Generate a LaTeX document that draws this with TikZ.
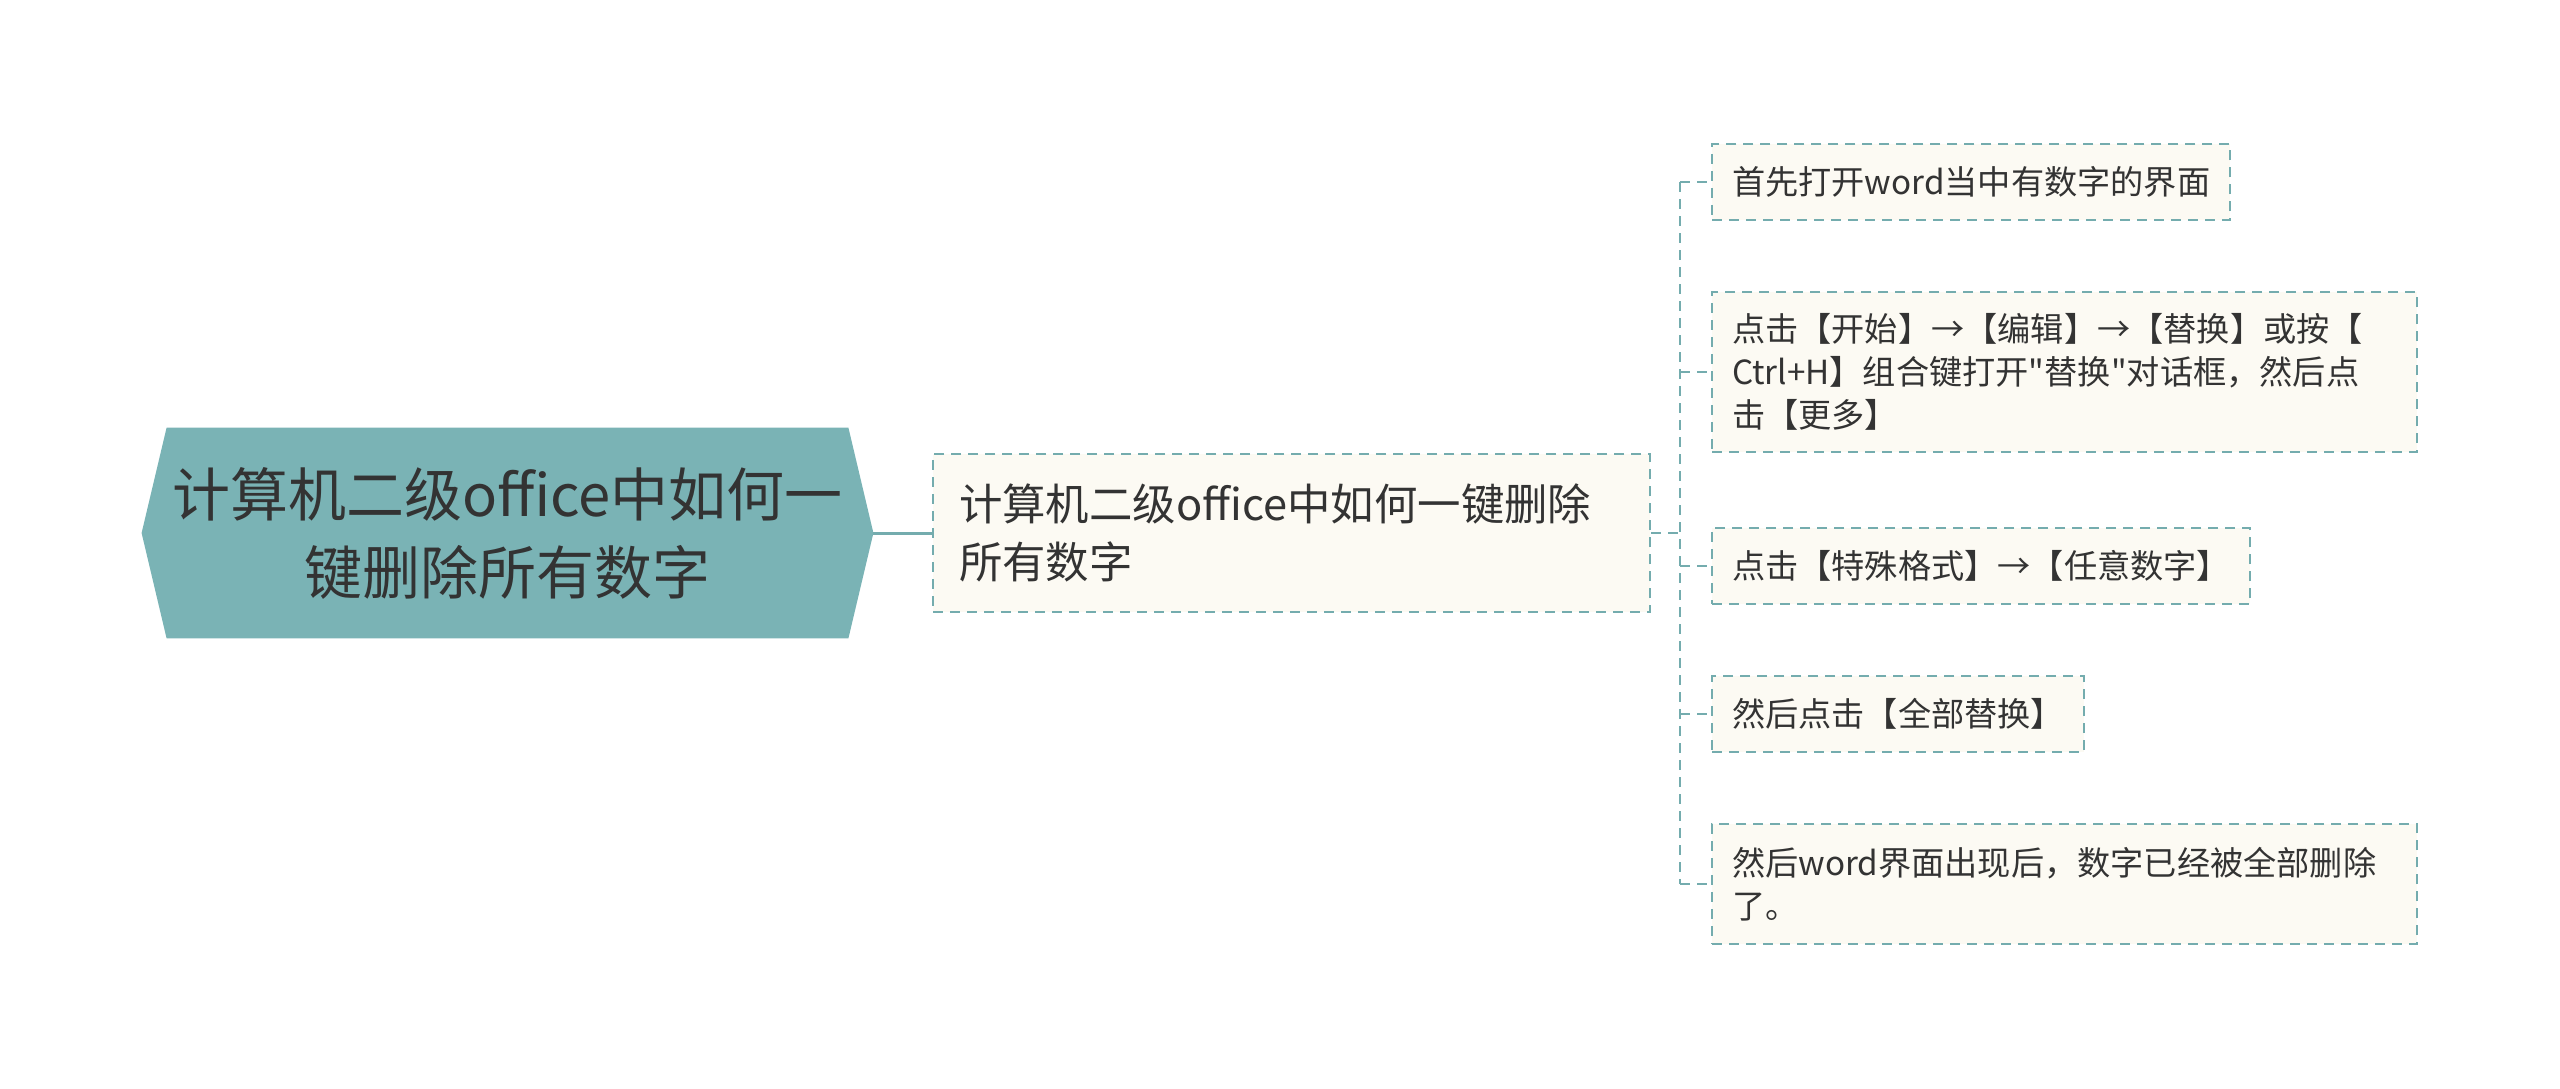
\documentclass[tikz,border=0pt]{standalone}
\usepackage{fontspec}
\setmainfont{Noto Sans CJK SC}
\newfontfamily\cjk{Noto Sans CJK SC}
\usepackage{xcolor}
\usepackage{tikz}
\usetikzlibrary{calc, positioning, backgrounds}

\definecolor{xanh}{HTML}{74ACAE}
\definecolor{nenxanh}{HTML}{7AB3B5}
\definecolor{nenkem}{HTML}{FCFAF3}
\definecolor{chu}{HTML}{333333}

\tikzset{
    leafbox/.style={draw=xanh, dash pattern=on 5pt off 3.5pt, line width=1.1pt,
        fill=nenkem, text=chu, anchor=west, align=left, inner xsep=10pt,
        font=\cjk\fontsize{16.6pt}{21.6pt}\selectfont},
    linkline/.style={draw=xanh, line width=1.1pt},
    dashline/.style={linkline, dash pattern=on 5pt off 3.5pt},
}

\begin{document}
\begin{tikzpicture}[x=0.5pt, y=-0.5pt]
    \useasboundingbox (0,0) rectangle (2560,1088);

    % 1. Nút gốc
    \node[minimum width=365.5pt, minimum height=105pt, inner sep=0pt, align=center,
        text=chu, font=\cjk\fontsize{29pt}{39pt}\selectfont] (goc) at (507.5,533)
        {计算机二级office中如何一\\键删除所有数字};
    \begin{scope}[on background layer]
        \fill[nenxanh] (goc.west) -- ($(goc.north west)+(25,0)$) -- ($(goc.north east)-(25,0)$)
            -- (goc.east) -- ($(goc.south east)-(25,0)$) -- ($(goc.south west)+(25,0)$) -- cycle;
    \end{scope}

    % 2. Nút giữa
    \node[leafbox, text width=332.5pt, minimum height=79pt, inner xsep=13pt,
        font=\cjk\fontsize{21.7pt}{28.6pt}\selectfont] (giua) at (932,533)
        {计算机二级office中如何一键删除\\所有数字};
    \draw[linkline, line width=1.5pt] (goc.east) -- (giua.west);

    % 3. Các bước
    \node[leafbox, minimum height=38pt] (la1) at (1711,182) {首先打开word当中有数字的界面};
    \node[leafbox, text width=332.5pt, minimum height=80pt] (la2) at (1711,372)
        {点击【开始】→【编辑】→【替换】或按【\\Ctrl+H】组合键打开"替换"对话框，然后点\\击【更多】};
    \node[leafbox, minimum height=38pt] (la3) at (1711,566) {点击【特殊格式】→【任意数字】};
    \node[leafbox, minimum height=38pt] (la4) at (1711,714) {然后点击【全部替换】};
    \node[leafbox, text width=332.5pt, minimum height=60pt] (la5) at (1711,884)
        {然后word界面出现后，数字已经被全部删除\\了。};

    % 4. Đường nối
    \coordinate (truc) at ($(giua.east)+(29,0)$);
    \draw[dashline] (giua.east) -- (truc);
    \draw[dashline] (truc |- la1.west) -- (truc |- la5.west);
    \foreach \i in {1,...,5}
        \draw[dashline] (truc |- la\i.west) -- (la\i.west);
\end{tikzpicture}
\end{document}
